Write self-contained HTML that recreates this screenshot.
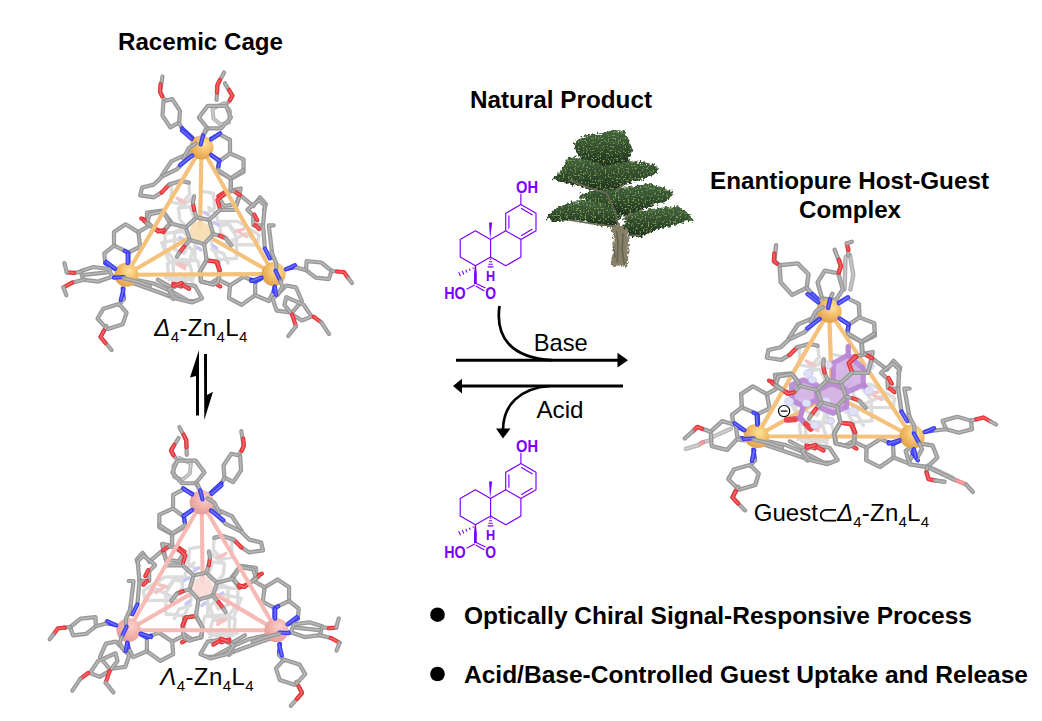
<!DOCTYPE html>
<html><head><meta charset="utf-8">
<style>
html,body{margin:0;padding:0;background:#fff;}
body{width:1042px;height:721px;overflow:hidden;position:relative;}
svg{position:absolute;left:0;top:0;}
text{font-family:"Liberation Sans",sans-serif;}
.hb{font-weight:bold;font-size:24.3px;fill:#000;}
.rg{font-size:24px;fill:#000;}
.pu{fill:#7a00ff;font-weight:bold;}
</style></head><body>
<svg width="1042" height="721" viewBox="0 0 1042 721">
<defs><radialGradient id="zn1" cx="0.62" cy="0.35" r="0.7"><stop offset="0" stop-color="#fde49c"/><stop offset="0.5" stop-color="#f4bd68"/><stop offset="1" stop-color="#df9f4a"/></radialGradient><radialGradient id="zn2" cx="0.38" cy="0.35" r="0.7"><stop offset="0" stop-color="#fbd0cc"/><stop offset="0.5" stop-color="#f3b3ae"/><stop offset="1" stop-color="#e39a95"/></radialGradient>
<g id="cageA" fill="none" stroke-linecap="round" stroke-linejoin="round">
<path d="M171.3,182.7 L188.8,181.7 L189.7,194.3 L181.0,204.1 L171.3,202.1ZM161.6,242.7 L181.0,238.9 L192.7,250.5 L188.8,264.1 L169.3,262.2ZM165.5,277.7 L181.0,273.8 L192.7,281.6M220.3,221.4 L237.7,221.4 L259.1,235.0 L257.2,244.7 L233.9,244.7 L220.3,233.0ZM174.7,231.9 L184.4,228.0 L190.2,239.7 L184.4,253.3 L174.7,249.4ZM211.6,249.4 L223.3,253.3 L228.1,263.0M179.6,207.6 L189.3,200.8 L194.1,195.0M208.7,207.6 L215.5,212.5 L219.4,226.1 L229.1,224.1 L234.9,231.9M178.3,208.3 L189.9,206.6 L194.9,219.9 L186.6,226.6 L179.9,219.9ZM165.0,233.2 L183.3,231.6 L194.9,243.2 L194.9,259.9 L176.6,263.2 L165.0,248.2ZM211.6,223.3 L226.6,221.6 L236.5,236.6 L236.5,258.2 L218.2,259.9 L211.6,244.9ZM203.2,191.6 L213.2,193.3 L214.9,208.3 L206.6,213.3M173.3,263.2 L189.9,264.9 L193.3,278.2 L173.3,278.2ZM226.6,243.2 L246.5,233.2 L256.5,241.6" stroke="#dcdcdc" stroke-width="3.4"/>
<path d="M235.8,231.1 L243.6,229.1M181.0,264.1 L184.9,266.1M177.1,198.2 L184.9,202.1M178.3,199.1 L181.6,201.6M178.3,264.0 L184.9,265.7M238.2,231.6 L246.5,236.6" stroke="#f2c4c4" stroke-width="3.4"/>
<path d="M204.1,212.4 L208.2,214.9M214.1,222.4 L218.2,224.9M179.9,237.4 L184.1,239.9M197.4,247.4 L200.8,249.9M213.2,245.7 L216.6,248.2" stroke="#c8c8f4" stroke-width="3.4"/>
<circle cx="200.0" cy="231.4" r="10" fill="var(--cen)" stroke="none"/>
<path d="M192.7,151.6 L171.3,161.3 L161.6,175.9" stroke="#989898" stroke-width="4.2"/>
<path d="M192.7,151.6 L171.3,161.3 L161.6,175.9" stroke="#c2c2c2" stroke-width="1.6" stroke-opacity="0.75"/>
<path d="M188.8,157.4 L177.1,169.1 L163.5,175.9" stroke="#989898" stroke-width="4.2"/>
<path d="M188.8,157.4 L177.1,169.1 L163.5,175.9" stroke="#c2c2c2" stroke-width="1.6" stroke-opacity="0.75"/>
<path d="M161.6,176.9 L153.8,184.6 L142.1,187.5 L140.2,195.3 L153.8,197.3 L161.6,192.4" stroke="#989898" stroke-width="4.2"/>
<path d="M161.6,176.9 L153.8,184.6 L142.1,187.5 L140.2,195.3 L153.8,197.3 L161.6,192.4" stroke="#c2c2c2" stroke-width="1.6" stroke-opacity="0.75"/>
<path d="M161.6,192.4 L169.3,184.6" stroke="#e63338" stroke-width="4.2"/>
<path d="M161.6,192.4 L169.3,184.6" stroke="#f77a7a" stroke-width="1.6" stroke-opacity="0.75"/>
<path d="M169.3,184.6 L181.0,180.7 L188.8,182.7" stroke="#989898" stroke-width="4.2"/>
<path d="M169.3,184.6 L181.0,180.7 L188.8,182.7" stroke="#c2c2c2" stroke-width="1.6" stroke-opacity="0.75"/>
<path d="M210.5,139.0 L219.3,134.1" stroke="#3a3cf2" stroke-width="4.2"/>
<path d="M210.5,139.0 L219.3,134.1" stroke="#8080ff" stroke-width="1.6" stroke-opacity="0.75"/>
<path d="M219.3,134.1 L230.0,139.9 L230.0,153.5" stroke="#989898" stroke-width="4.2"/>
<path d="M219.3,134.1 L230.0,139.9 L230.0,153.5" stroke="#c2c2c2" stroke-width="1.6" stroke-opacity="0.75"/>
<path d="M219.3,161.3 L230.0,153.5 L243.6,159.4 L243.6,172.0 L230.9,178.8 L217.3,171.0 L219.3,161.3" stroke="#989898" stroke-width="4.2"/>
<path d="M219.3,161.3 L230.0,153.5 L243.6,159.4 L243.6,172.0 L230.9,178.8 L217.3,171.0 L219.3,161.3" stroke="#c2c2c2" stroke-width="1.6" stroke-opacity="0.75"/>
<path d="M211.5,155.5 L219.3,160.3 L218.3,167.1" stroke="#3a3cf2" stroke-width="4.2"/>
<path d="M211.5,155.5 L219.3,160.3 L218.3,167.1" stroke="#8080ff" stroke-width="1.6" stroke-opacity="0.75"/>
<path d="M230.9,178.8 L230.9,190.5" stroke="#989898" stroke-width="4.2"/>
<path d="M230.9,178.8 L230.9,190.5" stroke="#c2c2c2" stroke-width="1.6" stroke-opacity="0.75"/>
<path d="M230.9,190.5 L240.7,188.5 L236.8,204.1 L224.1,206.0 L219.3,198.2 L230.9,190.5" stroke="#989898" stroke-width="4.2"/>
<path d="M230.9,190.5 L240.7,188.5 L236.8,204.1 L224.1,206.0 L219.3,198.2 L230.9,190.5" stroke="#c2c2c2" stroke-width="1.6" stroke-opacity="0.75"/>
<path d="M218.3,196.3 L224.1,192.4" stroke="#e63338" stroke-width="4.2"/>
<path d="M218.3,196.3 L224.1,192.4" stroke="#f77a7a" stroke-width="1.6" stroke-opacity="0.75"/>
<path d="M241.6,196.3 L253.3,206.0" stroke="#989898" stroke-width="4.2"/>
<path d="M241.6,196.3 L253.3,206.0" stroke="#c2c2c2" stroke-width="1.6" stroke-opacity="0.75"/>
<path d="M253.3,206.0 L260.1,197.3 L265.9,204.1 L264.0,210.1" stroke="#989898" stroke-width="4.2"/>
<path d="M253.3,206.0 L260.1,197.3 L265.9,204.1 L264.0,210.1" stroke="#c2c2c2" stroke-width="1.6" stroke-opacity="0.75"/>
<path d="M114.0,232.1 L125.6,224.3 L138.3,232.1 L140.2,246.6 L128.5,252.5 L114.0,245.7Z" stroke="#989898" stroke-width="4.2"/>
<path d="M114.0,232.1 L125.6,224.3 L138.3,232.1 L140.2,246.6 L128.5,252.5 L114.0,245.7Z" stroke="#c2c2c2" stroke-width="1.6" stroke-opacity="0.75"/>
<path d="M124.7,250.9 L128.5,252.8 L128.5,262.2" stroke="#3a3cf2" stroke-width="4.2"/>
<path d="M124.7,250.9 L128.5,252.8 L128.5,262.2" stroke="#8080ff" stroke-width="1.6" stroke-opacity="0.75"/>
<path d="M114.0,245.7 L104.3,253.4 L105.2,263.1" stroke="#989898" stroke-width="4.2"/>
<path d="M114.0,245.7 L104.3,253.4 L105.2,263.1" stroke="#c2c2c2" stroke-width="1.6" stroke-opacity="0.75"/>
<path d="M105.2,263.1 L114.9,269.0" stroke="#3a3cf2" stroke-width="4.2"/>
<path d="M105.2,263.1 L114.9,269.0" stroke="#8080ff" stroke-width="1.6" stroke-opacity="0.75"/>
<path d="M138.3,232.1 L149.9,225.3" stroke="#989898" stroke-width="4.2"/>
<path d="M138.3,232.1 L149.9,225.3" stroke="#c2c2c2" stroke-width="1.6" stroke-opacity="0.75"/>
<path d="M147.0,212.6 L162.5,210.7 L171.3,222.3 L163.5,232.1 L153.8,229.1 L147.0,221.4Z" stroke="#989898" stroke-width="4.2"/>
<path d="M147.0,212.6 L162.5,210.7 L171.3,222.3 L163.5,232.1 L153.8,229.1 L147.0,221.4Z" stroke="#c2c2c2" stroke-width="1.6" stroke-opacity="0.75"/>
<path d="M141.2,218.5 L147.0,220.4" stroke="#e63338" stroke-width="4.2"/>
<path d="M141.2,218.5 L147.0,220.4" stroke="#f77a7a" stroke-width="1.6" stroke-opacity="0.75"/>
<path d="M155.7,229.1 L163.5,232.1" stroke="#e63338" stroke-width="4.2"/>
<path d="M155.7,229.1 L163.5,232.1" stroke="#f77a7a" stroke-width="1.6" stroke-opacity="0.75"/>
<path d="M112.0,276.7 L122.7,277.7" stroke="#3a3cf2" stroke-width="4.2"/>
<path d="M112.0,276.7 L122.7,277.7" stroke="#8080ff" stroke-width="1.6" stroke-opacity="0.75"/>
<path d="M126.6,277.7 L153.8,283.5 L171.3,291.3 L188.8,301.0 L195.0,301.0" stroke="#989898" stroke-width="4.2"/>
<path d="M126.6,277.7 L153.8,283.5 L171.3,291.3 L188.8,301.0 L195.0,301.0" stroke="#c2c2c2" stroke-width="1.6" stroke-opacity="0.75"/>
<path d="M128.5,281.6 L161.6,293.3 L171.3,297.1 L173.2,299.1" stroke="#989898" stroke-width="4.2"/>
<path d="M128.5,281.6 L161.6,293.3 L171.3,297.1 L173.2,299.1" stroke="#c2c2c2" stroke-width="1.6" stroke-opacity="0.75"/>
<path d="M157.7,279.7 L171.3,287.4 L169.3,295.2" stroke="#989898" stroke-width="4.2"/>
<path d="M157.7,279.7 L171.3,287.4 L169.3,295.2" stroke="#c2c2c2" stroke-width="1.6" stroke-opacity="0.75"/>
<path d="M173.2,283.5 L181.0,286.5" stroke="#e63338" stroke-width="4.2"/>
<path d="M173.2,283.5 L181.0,286.5" stroke="#f77a7a" stroke-width="1.6" stroke-opacity="0.75"/>
<path d="M122.7,288.4 L123.7,299.1" stroke="#3a3cf2" stroke-width="4.2"/>
<path d="M122.7,288.4 L123.7,299.1" stroke="#8080ff" stroke-width="1.6" stroke-opacity="0.75"/>
<path d="M123.7,299.1 L118.8,304.9" stroke="#989898" stroke-width="4.2"/>
<path d="M123.7,299.1 L118.8,304.9" stroke="#c2c2c2" stroke-width="1.6" stroke-opacity="0.75"/>
<path d="M103.3,308.8 L118.8,303.9 L126.6,312.7 L122.7,324.3 L107.2,329.2 L97.5,318.5Z" stroke="#989898" stroke-width="4.2"/>
<path d="M103.3,308.8 L118.8,303.9 L126.6,312.7 L122.7,324.3 L107.2,329.2 L97.5,318.5Z" stroke="#c2c2c2" stroke-width="1.6" stroke-opacity="0.75"/>
<path d="M106.5,326.0 L100.5,337.0 L111.6,350.0" stroke="#989898" stroke-width="4.2"/>
<path d="M106.5,326.0 L100.5,337.0 L111.6,350.0" stroke="#c2c2c2" stroke-width="1.6" stroke-opacity="0.75"/>
<path d="M104.0,330.5 L100.5,337.0 L105.5,343.0" stroke="#e63338" stroke-width="4.2"/>
<path d="M104.0,330.5 L100.5,337.0 L105.5,343.0" stroke="#f77a7a" stroke-width="1.6" stroke-opacity="0.75"/>
<path d="M247.5,209.7 L259.1,200.0 L264.9,205.8 L263.0,225.3 L253.3,225.3 L253.3,215.5Z" stroke="#989898" stroke-width="4.2"/>
<path d="M247.5,209.7 L259.1,200.0 L264.9,205.8 L263.0,225.3 L253.3,225.3 L253.3,215.5Z" stroke="#c2c2c2" stroke-width="1.6" stroke-opacity="0.75"/>
<path d="M254.3,214.6 L257.2,220.4" stroke="#e63338" stroke-width="4.2"/>
<path d="M254.3,214.6 L257.2,220.4" stroke="#f77a7a" stroke-width="1.6" stroke-opacity="0.75"/>
<path d="M255.2,225.3 L259.1,229.1" stroke="#e63338" stroke-width="4.2"/>
<path d="M255.2,225.3 L259.1,229.1" stroke="#f77a7a" stroke-width="1.6" stroke-opacity="0.75"/>
<path d="M264.9,248.6 L263.0,225.3" stroke="#989898" stroke-width="4.2"/>
<path d="M264.9,248.6 L263.0,225.3" stroke="#c2c2c2" stroke-width="1.6" stroke-opacity="0.75"/>
<path d="M272.7,258.3 L268.8,225.3 L273.7,225.3" stroke="#989898" stroke-width="4.2"/>
<path d="M272.7,258.3 L268.8,225.3 L273.7,225.3" stroke="#c2c2c2" stroke-width="1.6" stroke-opacity="0.75"/>
<path d="M264.9,248.6 L269.8,258.3" stroke="#3a3cf2" stroke-width="4.2"/>
<path d="M264.9,248.6 L269.8,258.3" stroke="#8080ff" stroke-width="1.6" stroke-opacity="0.75"/>
<path d="M199.9,271.9 L206.7,260.2 L218.3,262.2 L219.3,277.7 L210.5,283.5 L200.8,281.6Z" stroke="#989898" stroke-width="4.2"/>
<path d="M199.9,271.9 L206.7,260.2 L218.3,262.2 L219.3,277.7 L210.5,283.5 L200.8,281.6Z" stroke="#c2c2c2" stroke-width="1.6" stroke-opacity="0.75"/>
<path d="M216.4,262.2 L218.7,268.0" stroke="#e63338" stroke-width="4.2"/>
<path d="M216.4,262.2 L218.7,268.0" stroke="#f77a7a" stroke-width="1.6" stroke-opacity="0.75"/>
<path d="M215.4,283.5 L220.3,286.5" stroke="#e63338" stroke-width="4.2"/>
<path d="M215.4,283.5 L220.3,286.5" stroke="#f77a7a" stroke-width="1.6" stroke-opacity="0.75"/>
<path d="M230.0,285.5 L218.3,279.7" stroke="#989898" stroke-width="4.2"/>
<path d="M230.0,285.5 L218.3,279.7" stroke="#c2c2c2" stroke-width="1.6" stroke-opacity="0.75"/>
<path d="M230.0,285.5 L243.6,276.7 L255.2,281.6 L255.2,295.2 L241.6,304.9 L229.0,298.1Z" stroke="#989898" stroke-width="4.2"/>
<path d="M230.0,285.5 L243.6,276.7 L255.2,281.6 L255.2,295.2 L241.6,304.9 L229.0,298.1Z" stroke="#c2c2c2" stroke-width="1.6" stroke-opacity="0.75"/>
<path d="M251.3,279.7 L255.2,281.6 L263.0,277.7" stroke="#3a3cf2" stroke-width="4.2"/>
<path d="M251.3,279.7 L255.2,281.6 L263.0,277.7" stroke="#8080ff" stroke-width="1.6" stroke-opacity="0.75"/>
<path d="M255.2,295.2 L268.8,301.0 L273.7,291.3" stroke="#989898" stroke-width="4.2"/>
<path d="M255.2,295.2 L268.8,301.0 L273.7,291.3" stroke="#c2c2c2" stroke-width="1.6" stroke-opacity="0.75"/>
<path d="M273.7,291.3 L274.7,285.5" stroke="#3a3cf2" stroke-width="4.2"/>
<path d="M273.7,291.3 L274.7,285.5" stroke="#8080ff" stroke-width="1.6" stroke-opacity="0.75"/>
<path d="M286.3,269.0 L296.0,267.0" stroke="#3a3cf2" stroke-width="4.2"/>
<path d="M286.3,269.0 L296.0,267.0" stroke="#8080ff" stroke-width="1.6" stroke-opacity="0.75"/>
<path d="M167.5,263.6 L177.6,259.3 L197.7,260.8 L200.6,272.3 L184.8,280.9 L168.9,279.5Z" stroke="#dcdcdc" stroke-width="3.4"/>
<path d="M177.6,264.4 L184.8,268.7" stroke="#f2c4c4" stroke-width="3.4"/>
<path d="M168.9,289.5 L180.5,283.8 L194.9,285.9 L202.0,298.2 L192.0,302.5 L174.7,298.2Z" stroke="#989898" stroke-width="4.2"/>
<path d="M168.9,289.5 L180.5,283.8 L194.9,285.9 L202.0,298.2 L192.0,302.5 L174.7,298.2Z" stroke="#c2c2c2" stroke-width="1.6" stroke-opacity="0.75"/>
<path d="M173.3,285.9 L181.9,283.1" stroke="#e63338" stroke-width="4.2"/>
<path d="M173.3,285.9 L181.9,283.1" stroke="#f77a7a" stroke-width="1.6" stroke-opacity="0.75"/>
<path d="M183.3,285.5 L189.1,288.8" stroke="#e63338" stroke-width="4.2"/>
<path d="M183.3,285.5 L189.1,288.8" stroke="#f77a7a" stroke-width="1.6" stroke-opacity="0.75"/>
<g id="c2r" fill="none" stroke-linecap="round" stroke-linejoin="round">
<path d="M219.9,209.9 L234.9,209.9 L239.9,195.0" stroke="#989898" stroke-width="4.2"/>
<path d="M219.9,209.9 L234.9,209.9 L239.9,195.0" stroke="#c2c2c2" stroke-width="1.6" stroke-opacity="0.75"/>
<path d="M239.9,195.0 L233.2,190.8" stroke="#e63338" stroke-width="4.2"/>
<path d="M239.9,195.0 L233.2,190.8" stroke="#f77a7a" stroke-width="1.6" stroke-opacity="0.75"/>
<path d="M233.2,190.8 L224.9,193.3" stroke="#989898" stroke-width="4.2"/>
<path d="M233.2,190.8 L224.9,193.3" stroke="#c2c2c2" stroke-width="1.6" stroke-opacity="0.75"/>
<path d="M224.9,193.3 L217.4,200.0 L219.9,208.3" stroke="#e63338" stroke-width="4.2"/>
<path d="M224.9,193.3 L217.4,200.0 L219.9,208.3" stroke="#f77a7a" stroke-width="1.6" stroke-opacity="0.75"/>
<path d="M230.7,190.0 L230.7,178.3 L243.2,170.0" stroke="#989898" stroke-width="4.2"/>
<path d="M230.7,190.0 L230.7,178.3 L243.2,170.0" stroke="#c2c2c2" stroke-width="1.6" stroke-opacity="0.75"/>
<path d="M230.7,178.3 L218.2,170.0" stroke="#989898" stroke-width="4.2"/>
<path d="M230.7,178.3 L218.2,170.0" stroke="#c2c2c2" stroke-width="1.6" stroke-opacity="0.75"/>
<path d="M206.6,259.9 L199.9,271.5 L201.6,281.5 L213.2,284.8 L218.2,281.5 L219.9,269.9" stroke="#989898" stroke-width="4.2"/>
<path d="M206.6,259.9 L199.9,271.5 L201.6,281.5 L213.2,284.8 L218.2,281.5 L219.9,269.9" stroke="#c2c2c2" stroke-width="1.6" stroke-opacity="0.75"/>
<path d="M219.9,269.9 L216.6,261.5 L208.2,260.7" stroke="#e63338" stroke-width="4.2"/>
<path d="M219.9,269.9 L216.6,261.5 L208.2,260.7" stroke="#f77a7a" stroke-width="1.6" stroke-opacity="0.75"/>
<path d="M170.0,223.3 L163.3,211.6 L150.0,214.1 L146.7,223.3" stroke="#989898" stroke-width="4.2"/>
<path d="M170.0,223.3 L163.3,211.6 L150.0,214.1 L146.7,223.3" stroke="#c2c2c2" stroke-width="1.6" stroke-opacity="0.75"/>
<path d="M146.7,223.3 L143.3,219.9" stroke="#e63338" stroke-width="4.2"/>
<path d="M146.7,223.3 L143.3,219.9" stroke="#f77a7a" stroke-width="1.6" stroke-opacity="0.75"/>
<path d="M170.0,223.3 L164.1,229.9" stroke="#989898" stroke-width="4.2"/>
<path d="M170.0,223.3 L164.1,229.9" stroke="#c2c2c2" stroke-width="1.6" stroke-opacity="0.75"/>
<path d="M164.1,229.9 L158.3,231.6 L153.3,227.4" stroke="#e63338" stroke-width="4.2"/>
<path d="M164.1,229.9 L158.3,231.6 L153.3,227.4" stroke="#f77a7a" stroke-width="1.6" stroke-opacity="0.75"/>
<path d="M153.3,227.4 L146.7,223.3" stroke="#989898" stroke-width="4.2"/>
<path d="M153.3,227.4 L146.7,223.3" stroke="#c2c2c2" stroke-width="1.6" stroke-opacity="0.75"/>
</g>

<path d="M201.5,147.4L126.3,274.8M201.5,147.4L273.6,274.0M126.3,274.8L273.6,274.0M201.5,147.4L200.1,226.4M126.3,274.8L186.2,239.5M273.6,274.0L213.8,239.4" stroke="var(--edge)" stroke-width="4.1"/>
<circle cx="200.0" cy="231.4" r="10.5" fill="var(--cen)" fill-opacity="0.75" stroke="none"/>
</g><g id="cageB" fill="none" stroke-linecap="round" stroke-linejoin="round">
<path d="M185.8,227.4 L196.6,217.4 L209.1,219.9 L213.2,234.1 L204.1,244.1 L189.9,239.9Z" stroke="#989898" stroke-width="4.2"/>
<path d="M185.8,227.4 L196.6,217.4 L209.1,219.9 L213.2,234.1 L204.1,244.1 L189.9,239.9Z" stroke="#c2c2c2" stroke-width="1.6" stroke-opacity="0.75"/>
<path d="M196.6,217.4 L194.1,209.9" stroke="#989898" stroke-width="4.2"/>
<path d="M196.6,217.4 L194.1,209.9" stroke="#c2c2c2" stroke-width="1.6" stroke-opacity="0.75"/>
<path d="M194.1,209.9 L192.9,202.5" stroke="#e63338" stroke-width="4.2"/>
<path d="M194.1,209.9 L192.9,202.5" stroke="#f77a7a" stroke-width="1.6" stroke-opacity="0.75"/>
<path d="M192.9,202.5 L194.1,196.6" stroke="#989898" stroke-width="4.2"/>
<path d="M192.9,202.5 L194.1,196.6" stroke="#c2c2c2" stroke-width="1.6" stroke-opacity="0.75"/>
<path d="M209.1,219.9 L219.9,209.9" stroke="#989898" stroke-width="4.2"/>
<path d="M209.1,219.9 L219.9,209.9" stroke="#c2c2c2" stroke-width="1.6" stroke-opacity="0.75"/>
<path d="M213.2,234.1 L219.9,235.7" stroke="#989898" stroke-width="4.2"/>
<path d="M213.2,234.1 L219.9,235.7" stroke="#c2c2c2" stroke-width="1.6" stroke-opacity="0.75"/>
<path d="M219.9,235.7 L225.7,238.2" stroke="#e63338" stroke-width="4.2"/>
<path d="M219.9,235.7 L225.7,238.2" stroke="#f77a7a" stroke-width="1.6" stroke-opacity="0.75"/>
<path d="M225.7,238.2 L231.2,245.2" stroke="#989898" stroke-width="4.2"/>
<path d="M225.7,238.2 L231.2,245.2" stroke="#c2c2c2" stroke-width="1.6" stroke-opacity="0.75"/>
<path d="M204.1,244.1 L206.6,259.9" stroke="#989898" stroke-width="4.2"/>
<path d="M204.1,244.1 L206.6,259.9" stroke="#c2c2c2" stroke-width="1.6" stroke-opacity="0.75"/>
<path d="M189.9,239.9 L184.1,246.6" stroke="#989898" stroke-width="4.2"/>
<path d="M189.9,239.9 L184.1,246.6" stroke="#c2c2c2" stroke-width="1.6" stroke-opacity="0.75"/>
<path d="M184.1,246.6 L179.1,253.2" stroke="#e63338" stroke-width="4.2"/>
<path d="M184.1,246.6 L179.1,253.2" stroke="#f77a7a" stroke-width="1.6" stroke-opacity="0.75"/>
<path d="M179.1,253.2 L177.0,256.6" stroke="#989898" stroke-width="4.2"/>
<path d="M179.1,253.2 L177.0,256.6" stroke="#c2c2c2" stroke-width="1.6" stroke-opacity="0.75"/>
<path d="M185.8,227.4 L170.0,223.3" stroke="#989898" stroke-width="4.2"/>
<path d="M185.8,227.4 L170.0,223.3" stroke="#c2c2c2" stroke-width="1.6" stroke-opacity="0.75"/>
<circle cx="201.5" cy="147.4" r="12" style="fill:var(--zng)" stroke="none"/>
<circle cx="126.3" cy="274.8" r="12" style="fill:var(--zng)" stroke="none"/>
<circle cx="273.6" cy="274.0" r="12" style="fill:var(--zng)" stroke="none"/>
<path d="M181.9,130.5 L191.6,138.9" stroke="#3a3cf2" stroke-width="4.2"/>
<path d="M181.9,130.5 L191.6,138.9" stroke="#8080ff" stroke-width="1.6" stroke-opacity="0.75"/>
<path d="M205.5,129.9 L203.1,135.4" stroke="#989898" stroke-width="4.2"/>
<path d="M205.5,129.9 L203.1,135.4" stroke="#c2c2c2" stroke-width="1.6" stroke-opacity="0.75"/>
<path d="M203.1,135.4 L200.7,144.4" stroke="#3a3cf2" stroke-width="4.2"/>
<path d="M203.1,135.4 L200.7,144.4" stroke="#8080ff" stroke-width="1.6" stroke-opacity="0.75"/>
<path d="M183.3,158.3 L188.9,147.9 L195.8,143.4" stroke="#989898" stroke-width="4.2"/>
<path d="M183.3,158.3 L188.9,147.9 L195.8,143.4" stroke="#c2c2c2" stroke-width="1.6" stroke-opacity="0.75"/>
<path d="M179.9,165.2 L192.3,155.5" stroke="#3a3cf2" stroke-width="4.2"/>
<path d="M179.9,165.2 L192.3,155.5" stroke="#8080ff" stroke-width="1.6" stroke-opacity="0.75"/>
<path d="M211.1,139.6 L220.1,133.3" stroke="#3a3cf2" stroke-width="4.2"/>
<path d="M211.1,139.6 L220.1,133.3" stroke="#8080ff" stroke-width="1.6" stroke-opacity="0.75"/>
<path d="M211.1,154.8 L219.4,161.1" stroke="#3a3cf2" stroke-width="4.2"/>
<path d="M211.1,154.8 L219.4,161.1" stroke="#8080ff" stroke-width="1.6" stroke-opacity="0.75"/>
<path d="M106.2,261.8 L115.3,268.7" stroke="#3a3cf2" stroke-width="4.2"/>
<path d="M106.2,261.8 L115.3,268.7" stroke="#8080ff" stroke-width="1.6" stroke-opacity="0.75"/>
<path d="M127.7,253.5 L127.7,263.2" stroke="#3a3cf2" stroke-width="4.2"/>
<path d="M127.7,253.5 L127.7,263.2" stroke="#8080ff" stroke-width="1.6" stroke-opacity="0.75"/>
<path d="M113.9,277.7 L123.6,277.0" stroke="#3a3cf2" stroke-width="4.2"/>
<path d="M113.9,277.7 L123.6,277.0" stroke="#8080ff" stroke-width="1.6" stroke-opacity="0.75"/>
<path d="M123.6,278.4 L136.1,281.2 L149.9,286.1" stroke="#989898" stroke-width="4.2"/>
<path d="M123.6,278.4 L136.1,281.2 L149.9,286.1" stroke="#c2c2c2" stroke-width="1.6" stroke-opacity="0.75"/>
<path d="M123.6,288.8 L120.8,299.9" stroke="#3a3cf2" stroke-width="4.2"/>
<path d="M123.6,288.8 L120.8,299.9" stroke="#8080ff" stroke-width="1.6" stroke-opacity="0.75"/>
<path d="M271.4,251.9 L276.2,263.0 L276.2,270.0" stroke="#989898" stroke-width="4.2"/>
<path d="M271.4,251.9 L276.2,263.0 L276.2,270.0" stroke="#c2c2c2" stroke-width="1.6" stroke-opacity="0.75"/>
<path d="M275.5,270.7 L280.4,281.1" stroke="#3a3cf2" stroke-width="4.2"/>
<path d="M275.5,270.7 L280.4,281.1" stroke="#8080ff" stroke-width="1.6" stroke-opacity="0.75"/>
<path d="M280.4,281.1 L282.4,286.6 L277.6,294.9" stroke="#989898" stroke-width="4.2"/>
<path d="M280.4,281.1 L282.4,286.6 L277.6,294.9" stroke="#c2c2c2" stroke-width="1.6" stroke-opacity="0.75"/>
<path d="M285.9,269.3 L294.9,265.1" stroke="#3a3cf2" stroke-width="4.2"/>
<path d="M285.9,269.3 L294.9,265.1" stroke="#8080ff" stroke-width="1.6" stroke-opacity="0.75"/>
<path d="M251.2,281.1 L261.6,277.6" stroke="#3a3cf2" stroke-width="4.2"/>
<path d="M251.2,281.1 L261.6,277.6" stroke="#8080ff" stroke-width="1.6" stroke-opacity="0.75"/>
<path d="M274.8,286.6 L276.2,294.9" stroke="#3a3cf2" stroke-width="4.2"/>
<path d="M274.8,286.6 L276.2,294.9" stroke="#8080ff" stroke-width="1.6" stroke-opacity="0.75"/>
</g><g id="cageTop" fill="none" stroke-linecap="round" stroke-linejoin="round">
<path d="M163.5,101.1 L172.3,99.1 L180.0,110.8 L179.1,122.5 L170.3,127.3 L162.5,115.7Z" stroke="#989898" stroke-width="4.2"/>
<path d="M163.5,101.1 L172.3,99.1 L180.0,110.8 L179.1,122.5 L170.3,127.3 L162.5,115.7Z" stroke="#c2c2c2" stroke-width="1.6" stroke-opacity="0.75"/>
<path d="M164.1,99.1 L160.0,91.6 L162.5,76.6" stroke="#989898" stroke-width="4.2"/>
<path d="M164.1,99.1 L160.0,91.6 L162.5,76.6" stroke="#c2c2c2" stroke-width="1.6" stroke-opacity="0.75"/>
<path d="M162.0,96.3 L160.0,91.6 L160.5,84.1" stroke="#e63338" stroke-width="4.2"/>
<path d="M162.0,96.3 L160.0,91.6 L160.5,84.1" stroke="#f77a7a" stroke-width="1.6" stroke-opacity="0.75"/>
<path d="M179.1,123.4 L183.9,131.2" stroke="#989898" stroke-width="4.2"/>
<path d="M179.1,123.4 L183.9,131.2" stroke="#c2c2c2" stroke-width="1.6" stroke-opacity="0.75"/>
<path d="M182.0,128.3 L193.6,139.0" stroke="#3a3cf2" stroke-width="4.2"/>
<path d="M182.0,128.3 L193.6,139.0" stroke="#8080ff" stroke-width="1.6" stroke-opacity="0.75"/>
<path d="M212.5,108.9 L224.1,103.0 L230.0,110.8 L229.0,122.5 L220.3,124.4 L213.5,118.6Z" stroke="#b2b2b2" stroke-width="3.9"/>
<path d="M212.5,108.9 L224.1,103.0 L230.0,110.8 L229.0,122.5 L220.3,124.4 L213.5,118.6Z" stroke="#d4d4d4" stroke-width="1.6" stroke-opacity="0.75"/>
<path d="M216.6,100.0 L217.4,85.0 L224.1,72.5" stroke="#989898" stroke-width="4.2"/>
<path d="M216.6,100.0 L217.4,85.0 L224.1,72.5" stroke="#c2c2c2" stroke-width="1.6" stroke-opacity="0.75"/>
<path d="M216.9,92.5 L217.4,85.0 L219.9,80.0" stroke="#e63338" stroke-width="4.2"/>
<path d="M216.9,92.5 L217.4,85.0 L219.9,80.0" stroke="#f77a7a" stroke-width="1.6" stroke-opacity="0.75"/>
<path d="M198.9,117.6 L207.6,105.9 L226.1,105.9 L230.9,117.6 L221.2,128.3 L207.6,128.3Z" stroke="#989898" stroke-width="4.2"/>
<path d="M198.9,117.6 L207.6,105.9 L226.1,105.9 L230.9,117.6 L221.2,128.3 L207.6,128.3Z" stroke="#c2c2c2" stroke-width="1.6" stroke-opacity="0.75"/>
<path d="M207.6,128.3 L202.8,136.1" stroke="#989898" stroke-width="4.2"/>
<path d="M207.6,128.3 L202.8,136.1" stroke="#c2c2c2" stroke-width="1.6" stroke-opacity="0.75"/>
<path d="M202.8,136.1 L198.9,143.8" stroke="#3a3cf2" stroke-width="4.2"/>
<path d="M202.8,136.1 L198.9,143.8" stroke="#8080ff" stroke-width="1.6" stroke-opacity="0.75"/>
<path d="M228.2,102.5 L232.4,95.8 L224.9,83.3" stroke="#989898" stroke-width="4.2"/>
<path d="M228.2,102.5 L232.4,95.8 L224.9,83.3" stroke="#c2c2c2" stroke-width="1.6" stroke-opacity="0.75"/>
<path d="M229.9,100.3 L232.4,95.8 L229.1,90.0" stroke="#e63338" stroke-width="4.2"/>
<path d="M229.9,100.3 L232.4,95.8 L229.1,90.0" stroke="#f77a7a" stroke-width="1.6" stroke-opacity="0.75"/>
</g><g id="cageRF" fill="none" stroke-linecap="round" stroke-linejoin="round">
<path d="M306.0,270.1 L306.6,261.1 L321.2,262.5 L331.6,270.8 L328.8,279.1 L315.7,277.7Z" stroke="#989898" stroke-width="4.2"/>
<path d="M306.0,270.1 L306.6,261.1 L321.2,262.5 L331.6,270.8 L328.8,279.1 L315.7,277.7Z" stroke="#c2c2c2" stroke-width="1.6" stroke-opacity="0.75"/>
<path d="M331.6,270.8 L337.0,271.5" stroke="#989898" stroke-width="4.2"/>
<path d="M331.6,270.8 L337.0,271.5" stroke="#c2c2c2" stroke-width="1.6" stroke-opacity="0.75"/>
<path d="M337.0,271.5 L344.0,272.2 L348.5,278.5" stroke="#e63338" stroke-width="4.2"/>
<path d="M337.0,271.5 L344.0,272.2 L348.5,278.5" stroke="#f77a7a" stroke-width="1.6" stroke-opacity="0.75"/>
<path d="M348.5,278.5 L352.0,283.0" stroke="#989898" stroke-width="4.2"/>
<path d="M348.5,278.5 L352.0,283.0" stroke="#c2c2c2" stroke-width="1.6" stroke-opacity="0.75"/>
<path d="M296.0,267.5 L306.0,270.1" stroke="#989898" stroke-width="4.2"/>
<path d="M296.0,267.5 L306.0,270.1" stroke="#c2c2c2" stroke-width="1.6" stroke-opacity="0.75"/>
</g><g id="cageLD" fill="none" stroke-linecap="round" stroke-linejoin="round">
<path d="M80.9,270.9 L93.6,267.0 L109.1,269.0 L112.0,276.7 L98.4,281.6 L82.9,279.7Z" stroke="#989898" stroke-width="4.2"/>
<path d="M80.9,270.9 L93.6,267.0 L109.1,269.0 L112.0,276.7 L98.4,281.6 L82.9,279.7Z" stroke="#c2c2c2" stroke-width="1.6" stroke-opacity="0.75"/>
<path d="M83.9,274.8 L107.2,272.3" stroke="#989898" stroke-width="4.2"/>
<path d="M83.9,274.8 L107.2,272.3" stroke="#c2c2c2" stroke-width="1.6" stroke-opacity="0.75"/>
<path d="M80.9,271.9 L74.1,272.9" stroke="#989898" stroke-width="4.2"/>
<path d="M80.9,271.9 L74.1,272.9" stroke="#c2c2c2" stroke-width="1.6" stroke-opacity="0.75"/>
<path d="M74.1,272.9 L66.8,272.3" stroke="#e63338" stroke-width="4.2"/>
<path d="M74.1,272.9 L66.8,272.3" stroke="#f77a7a" stroke-width="1.6" stroke-opacity="0.75"/>
<path d="M66.8,272.3 L64.4,263.1" stroke="#989898" stroke-width="4.2"/>
<path d="M66.8,272.3 L64.4,263.1" stroke="#c2c2c2" stroke-width="1.6" stroke-opacity="0.75"/>
<path d="M83.9,279.7 L72.2,282.6" stroke="#989898" stroke-width="4.2"/>
<path d="M83.9,279.7 L72.2,282.6" stroke="#c2c2c2" stroke-width="1.6" stroke-opacity="0.75"/>
<path d="M72.2,282.6 L63.5,287.4" stroke="#e63338" stroke-width="4.2"/>
<path d="M72.2,282.6 L63.5,287.4" stroke="#f77a7a" stroke-width="1.6" stroke-opacity="0.75"/>
<path d="M63.5,287.4 L66.4,295.2" stroke="#989898" stroke-width="4.2"/>
<path d="M63.5,287.4 L66.4,295.2" stroke="#c2c2c2" stroke-width="1.6" stroke-opacity="0.75"/>
</g><g id="cageIJ" fill="none" stroke-linecap="round" stroke-linejoin="round">
<path d="M272.7,299.1 L286.3,285.5 L296.0,287.4 L301.9,301.0 L292.1,312.7 L276.6,310.7Z" stroke="#989898" stroke-width="4.2"/>
<path d="M272.7,299.1 L286.3,285.5 L296.0,287.4 L301.9,301.0 L292.1,312.7 L276.6,310.7Z" stroke="#c2c2c2" stroke-width="1.6" stroke-opacity="0.75"/>
<path d="M286.3,297.1 L303.8,304.9 L311.6,316.6 L301.9,320.5 L292.1,314.6 L284.4,304.9Z" stroke="#989898" stroke-width="4.2"/>
<path d="M286.3,297.1 L303.8,304.9 L311.6,316.6 L301.9,320.5 L292.1,314.6 L284.4,304.9Z" stroke="#c2c2c2" stroke-width="1.6" stroke-opacity="0.75"/>
<path d="M292.1,314.6 L296.0,326.3" stroke="#e63338" stroke-width="4.2"/>
<path d="M292.1,314.6 L296.0,326.3" stroke="#f77a7a" stroke-width="1.6" stroke-opacity="0.75"/>
<path d="M296.0,326.3 L288.3,336.0" stroke="#989898" stroke-width="4.2"/>
<path d="M296.0,326.3 L288.3,336.0" stroke="#c2c2c2" stroke-width="1.6" stroke-opacity="0.75"/>
<path d="M313.5,316.6 L321.3,322.4" stroke="#e63338" stroke-width="4.2"/>
<path d="M313.5,316.6 L321.3,322.4" stroke="#f77a7a" stroke-width="1.6" stroke-opacity="0.75"/>
<path d="M321.3,322.4 L329.1,334.1" stroke="#989898" stroke-width="4.2"/>
<path d="M321.3,322.4 L329.1,334.1" stroke="#c2c2c2" stroke-width="1.6" stroke-opacity="0.75"/>
</g></defs>
<g style="--zng:url(#zn1);--edge:#f4c27c;--cen:#f7e0b8"><use href="#cageA"/><use href="#cageTop"/><use href="#cageRF"/><use href="#cageLD"/><use href="#cageIJ"/><use href="#cageB"/></g>
<g style="--zng:url(#zn1);--edge:#f4c27c;--cen:#f7e0b8"><use href="#cageA" transform="matrix(1.05664,0.00876,0.05305,0.98790,608.37,163.62)"/><use href="#cageRF" transform="matrix(1.05664,0.00876,0.05305,0.98790,608.37,163.62) rotate(-22 296 267.5)"/><g fill="none" stroke-linecap="round" stroke-linejoin="round">
<path d="M927.2,465.7 L952.7,477.8" stroke="#b8b8b8" stroke-width="4.4"/>
<path d="M927.2,465.7 L952.7,477.8" stroke="#d8d8d8" stroke-width="1.7" stroke-opacity="0.75"/>
<path d="M905.7,450.9 L916.4,442.8 L932.6,445.5 L937.3,457.6 L927.2,467.0 L909.7,464.3Z" stroke="#989898" stroke-width="4.4"/>
<path d="M905.7,450.9 L916.4,442.8 L932.6,445.5 L937.3,457.6 L927.2,467.0 L909.7,464.3Z" stroke="#c2c2c2" stroke-width="1.7" stroke-opacity="0.75"/>
<path d="M927.2,467.0 L952.7,479.1 L956.7,480.5" stroke="#989898" stroke-width="4.4"/>
<path d="M927.2,467.0 L952.7,479.1 L956.7,480.5" stroke="#c2c2c2" stroke-width="1.7" stroke-opacity="0.75"/>
<path d="M956.7,480.5 L966.1,484.5" stroke="#f08a8a" stroke-width="4.4"/>
<path d="M956.7,480.5 L966.1,484.5" stroke="#f8b0b0" stroke-width="1.7" stroke-opacity="0.75"/>
<path d="M966.1,484.5 L972.9,491.9" stroke="#989898" stroke-width="4.4"/>
<path d="M966.1,484.5 L972.9,491.9" stroke="#c2c2c2" stroke-width="1.7" stroke-opacity="0.75"/>
<path d="M927.2,467.0 L926.5,472.4" stroke="#989898" stroke-width="4.4"/>
<path d="M927.2,467.0 L926.5,472.4" stroke="#c2c2c2" stroke-width="1.7" stroke-opacity="0.75"/>
<path d="M926.5,472.4 L928.5,479.1 L935.2,480.5" stroke="#e63338" stroke-width="4.4"/>
<path d="M926.5,472.4 L928.5,479.1 L935.2,480.5" stroke="#f77a7a" stroke-width="1.7" stroke-opacity="0.75"/>
<path d="M935.2,480.5 L944.6,481.8" stroke="#989898" stroke-width="4.4"/>
<path d="M935.2,480.5 L944.6,481.8" stroke="#c2c2c2" stroke-width="1.7" stroke-opacity="0.75"/>
<path d="M912.4,452.2 L917.8,460.3" stroke="#3a3cf2" stroke-width="4.4"/>
<path d="M912.4,452.2 L917.8,460.3" stroke="#8080ff" stroke-width="1.7" stroke-opacity="0.75"/>
</g><g fill="none" stroke-linecap="round" stroke-linejoin="round">
<path d="M713.6,436.5 L730.9,428.8" stroke="#b8b8b8" stroke-width="4.4"/>
<path d="M713.6,436.5 L730.9,428.8" stroke="#d8d8d8" stroke-width="1.7" stroke-opacity="0.75"/>
<path d="M709.8,440.3 L703.0,442.2" stroke="#b8b8b8" stroke-width="4.4"/>
<path d="M709.8,440.3 L703.0,442.2" stroke="#d8d8d8" stroke-width="1.7" stroke-opacity="0.75"/>
<path d="M703.0,442.2 L698.2,445.1" stroke="#f08a8a" stroke-width="4.4"/>
<path d="M703.0,442.2 L698.2,445.1" stroke="#f8b0b0" stroke-width="1.7" stroke-opacity="0.75"/>
<path d="M698.2,445.1 L685.8,448.9" stroke="#b8b8b8" stroke-width="4.4"/>
<path d="M698.2,445.1 L685.8,448.9" stroke="#d8d8d8" stroke-width="1.7" stroke-opacity="0.75"/>
<path d="M710.7,431.7 L722.2,421.1 L735.7,425.0 L737.6,438.4 L727.0,449.9 L711.7,446.1Z" stroke="#989898" stroke-width="4.4"/>
<path d="M710.7,431.7 L722.2,421.1 L735.7,425.0 L737.6,438.4 L727.0,449.9 L711.7,446.1Z" stroke="#c2c2c2" stroke-width="1.7" stroke-opacity="0.75"/>
<path d="M710.7,431.7 L702.1,428.8" stroke="#989898" stroke-width="4.4"/>
<path d="M710.7,431.7 L702.1,428.8" stroke="#c2c2c2" stroke-width="1.7" stroke-opacity="0.75"/>
<path d="M702.1,428.8 L697.3,426.9 L692.5,431.7" stroke="#e63338" stroke-width="4.4"/>
<path d="M702.1,428.8 L697.3,426.9 L692.5,431.7" stroke="#f77a7a" stroke-width="1.7" stroke-opacity="0.75"/>
<path d="M692.5,431.7 L684.8,438.4" stroke="#989898" stroke-width="4.4"/>
<path d="M692.5,431.7 L684.8,438.4" stroke="#c2c2c2" stroke-width="1.7" stroke-opacity="0.75"/>
<path d="M737.6,439.3 L744.3,440.3" stroke="#989898" stroke-width="4.4"/>
<path d="M737.6,439.3 L744.3,440.3" stroke="#c2c2c2" stroke-width="1.7" stroke-opacity="0.75"/>
</g><g fill="none" stroke-linecap="round" stroke-linejoin="round">
<path d="M779.7,265.2 L797.7,263.4 L808.5,274.2 L806.7,287.7 L792.3,294.9 L780.6,282.3Z" stroke="#989898" stroke-width="4.4"/>
<path d="M779.7,265.2 L797.7,263.4 L808.5,274.2 L806.7,287.7 L792.3,294.9 L780.6,282.3Z" stroke="#c2c2c2" stroke-width="1.7" stroke-opacity="0.75"/>
<path d="M779.7,265.2 L774.3,261.6 L776.1,245.3" stroke="#989898" stroke-width="4.4"/>
<path d="M779.7,265.2 L774.3,261.6 L776.1,245.3" stroke="#c2c2c2" stroke-width="1.7" stroke-opacity="0.75"/>
<path d="M777.0,263.4 L773.9,261.0 L774.3,253.4" stroke="#e8333a" stroke-width="4.4"/>
<path d="M777.0,263.4 L773.9,261.0 L774.3,253.4" stroke="#f57070" stroke-width="1.7" stroke-opacity="0.75"/>
<path d="M806.7,287.7 L812.2,294.0" stroke="#989898" stroke-width="4.4"/>
<path d="M806.7,287.7 L812.2,294.0" stroke="#c2c2c2" stroke-width="1.7" stroke-opacity="0.75"/>
<path d="M812.2,294.0 L821.2,302.2" stroke="#3b3ff0" stroke-width="4.4"/>
<path d="M812.2,294.0 L821.2,302.2" stroke="#7678ff" stroke-width="1.7" stroke-opacity="0.75"/>
<path d="M844.6,289.5 L845.5,257.1 L850.0,255.3 L853.3,275.1 L850.4,289.5" stroke="#b0b0b0" stroke-width="4.4"/>
<path d="M844.6,289.5 L845.5,257.1 L850.0,255.3 L853.3,275.1 L850.4,289.5" stroke="#cfcfcf" stroke-width="1.7" stroke-opacity="0.75"/>
<path d="M848.2,255.3 L848.2,248.0" stroke="#989898" stroke-width="4.4"/>
<path d="M848.2,255.3 L848.2,248.0" stroke="#c2c2c2" stroke-width="1.7" stroke-opacity="0.75"/>
<path d="M848.2,249.8 L846.8,243.5" stroke="#e8333a" stroke-width="4.4"/>
<path d="M848.2,249.8 L846.8,243.5" stroke="#f57070" stroke-width="1.7" stroke-opacity="0.75"/>
<path d="M846.8,243.5 L851.8,241.7" stroke="#989898" stroke-width="4.4"/>
<path d="M846.8,243.5 L851.8,241.7" stroke="#c2c2c2" stroke-width="1.7" stroke-opacity="0.75"/>
<path d="M817.6,282.3 L824.8,270.6 L838.3,273.3 L842.8,289.5 L835.6,300.3 L822.1,298.5Z" stroke="#989898" stroke-width="4.4"/>
<path d="M817.6,282.3 L824.8,270.6 L838.3,273.3 L842.8,289.5 L835.6,300.3 L822.1,298.5Z" stroke="#c2c2c2" stroke-width="1.7" stroke-opacity="0.75"/>
<path d="M822.1,298.5 L819.4,304.0" stroke="#989898" stroke-width="4.4"/>
<path d="M822.1,298.5 L819.4,304.0" stroke="#c2c2c2" stroke-width="1.7" stroke-opacity="0.75"/>
<path d="M838.3,273.3 L841.0,266.1 L834.7,249.8" stroke="#989898" stroke-width="4.4"/>
<path d="M838.3,273.3 L841.0,266.1 L834.7,249.8" stroke="#c2c2c2" stroke-width="1.7" stroke-opacity="0.75"/>
<path d="M838.8,272.4 L841.0,266.1 L838.8,259.8" stroke="#e8333a" stroke-width="4.4"/>
<path d="M838.8,272.4 L841.0,266.1 L838.8,259.8" stroke="#f57070" stroke-width="1.7" stroke-opacity="0.75"/>
</g><g transform="translate(770 330) scale(0.16644)" stroke-linecap="round" stroke-linejoin="round">
<g fill="#d4b2e6" stroke="#b987d4" stroke-width="32" opacity="0.92">
<polygon points="380,200 470,150 560,230 560,330 470,370 380,320"/>
<polygon points="290,360 370,320 460,360 460,460 380,500 290,460"/>
<polygon points="130,330 200,300 280,330 280,420 200,460 130,420"/>
</g>
<g fill="none" stroke="#b987d4" stroke-width="32">
<path d="M470,150 L470,100 M200,460 L180,530 L110,540 M180,530 L240,590 M560,330 L600,370"/>
</g>
<g fill="none" stroke="#e8474c" stroke-width="34"><path d="M150,537 L100,540 M215,565 L245,595"/></g>
<g fill="#e0e0fa" stroke="#c4c4ee" stroke-width="4">
<ellipse cx="345" cy="210" rx="30" ry="24"/><ellipse cx="230" cy="262" rx="28" ry="24"/><ellipse cx="255" cy="300" rx="24" ry="20"/>
<ellipse cx="115" cy="430" rx="28" ry="24"/><ellipse cx="220" cy="440" rx="26" ry="22"/><ellipse cx="335" cy="430" rx="30" ry="24"/>
<ellipse cx="500" cy="490" rx="30" ry="25"/><ellipse cx="595" cy="365" rx="28" ry="24"/><ellipse cx="600" cy="220" rx="26" ry="22"/>
<ellipse cx="270" cy="572" rx="26" ry="22"/><ellipse cx="365" cy="545" rx="24" ry="20"/>
</g>
</g><use href="#c2r" transform="matrix(1.05664,0.00876,0.05305,0.98790,608.37,163.62)"/><use href="#cageB" transform="matrix(1.05664,0.00876,0.05305,0.98790,608.37,163.62)"/></g>
<circle cx="784.1" cy="411.1" r="5.6" fill="#fff" stroke="#000" stroke-width="1.2"/><path d="M780.8,411.1 H787.4" stroke="#000" stroke-width="1.2"/>
<g style="--zng:url(#zn2);--edge:#f6b9b4;--cen:#f9dcd8"><use href="#cageA" transform="matrix(-1.00478,0.00343,-0.00596,1.00595,405.04,353.43)"/><use href="#cageTop" transform="matrix(-1.00478,0.00343,-0.00596,1.00595,405.04,353.43)"/><use href="#cageRF" transform="matrix(-1.00478,0.00343,-0.00596,1.00595,405.04,353.43)"/><use href="#cageLD" transform="matrix(-1.00478,0.00343,-0.00596,1.00595,405.04,353.43)"/><use href="#cageIJ" transform="matrix(-1.00478,0.00343,-0.00596,1.00595,405.04,353.43)"/><use href="#cageB" transform="matrix(-1.00478,0.00343,-0.00596,1.00595,405.04,353.43)"/></g>

<defs><filter id="rough" x="-10%" y="-10%" width="120%" height="120%"><feTurbulence type="fractalNoise" baseFrequency="0.35" numOctaves="2" seed="4" result="n"/><feDisplacementMap in="SourceGraphic" in2="n" scale="7" xChannelSelector="R" yChannelSelector="G"/></filter>
<linearGradient id="lg" x1="0" y1="0" x2="0" y2="1"><stop offset="0" stop-color="#456640"/><stop offset="0.6" stop-color="#2e482a"/><stop offset="1" stop-color="#1d2c1b"/></linearGradient>
<filter id="speck" x="0" y="0" width="100%" height="100%" color-interpolation-filters="sRGB"><feTurbulence type="fractalNoise" baseFrequency="0.6" numOctaves="1" seed="9" result="n"/><feColorMatrix in="n" type="matrix" values="0 0 0 0 0.47  0 0 0 0 0.60  0 0 0 0 0.33  0 0 0 9 -5.1" result="s"/><feComposite in="s" in2="SourceGraphic" operator="in" result="s2"/><feMerge><feMergeNode in="SourceGraphic"/><feMergeNode in="s2"/></feMerge></filter></defs>
<g>
<polygon points="610.6,227.6 617.7,223.9 627.0,226.1 629.2,239.8 628.3,253.2 627.9,265.8 610.6,265.8 612.8,253.2 614.6,239.8" fill="#868069" filter="url(#rough)"/>
<path d="M616.6,231.0 L618.1,244.3 L617.2,262.0" stroke="#5e5a4a" stroke-width="1.5" fill="none" opacity="0.8"/>
<path d="M623.2,233.2 L622.1,248.7 L624.3,264.3" stroke="#5e5a4a" stroke-width="1.5" fill="none" opacity="0.8"/>
<path d="M613.2,244.3 L615.0,257.6" stroke="#5e5a4a" stroke-width="1.5" fill="none" opacity="0.8"/>
<g filter="url(#speck)"><g filter="url(#rough)">
<polygon points="573.3,142.2 579.9,137.8 591.0,134.4 602.1,133.3 615.5,130.0 624.3,131.1 628.8,140.0 632.1,148.9 629.9,157.7 624.3,164.4 606.6,166.6 584.4,162.2 575.5,151.1" fill="url(#lg)"/>
<polygon points="552.2,178.8 560.0,173.3 566.6,158.8 575.5,156.6 586.6,159.9 606.6,165.5 628.8,161.1 644.3,162.2 658.7,166.6 656.5,173.3 639.9,179.9 624.3,184.4 611.0,192.1 597.7,192.1 584.4,187.7 566.6,183.2" fill="url(#lg)"/>
<polygon points="577.7,195.5 591.0,191.0 613.2,188.8 633.2,186.6 646.5,183.2 664.3,187.7 674.3,193.2 665.4,202.1 648.7,206.6 633.2,213.2 622.1,215.9 604.4,207.7 588.8,201.0" fill="url(#lg)"/>
<polygon points="546.7,217.6 555.5,208.8 568.9,202.6 584.4,200.3 602.1,203.9 613.2,208.8 621.0,215.4 617.7,224.3 606.6,227.0 588.8,222.5 571.1,220.3 553.3,221.0" fill="url(#lg)"/>
<polygon points="625.4,215.4 639.9,210.5 657.6,208.3 677.6,206.1 686.5,212.1 693.6,220.3 682.0,222.5 668.7,226.5 651.0,231.4 639.9,238.1 631.0,235.8 623.9,227.0" fill="url(#lg)"/>
</g></g>
<path d="M584.4,186.6 L606.6,193.2 L615.5,213.2 L617.7,224.3" stroke="#6e6a58" stroke-width="1.6" fill="none"/>
<path d="M624.3,184.4 L615.5,191.0" stroke="#6e6a58" stroke-width="1.6" fill="none"/>
<path d="M633.2,213.2 L622.1,219.9" stroke="#6e6a58" stroke-width="1.6" fill="none"/>
<path d="M639.9,235.4 L627.7,235.4" stroke="#6e6a58" stroke-width="1.6" fill="none"/>
<path d="M568.9,179.9 L588.8,187.7" stroke="#6e6a58" stroke-width="1.6" fill="none"/>
<path d="M568.9,219.9 L595.5,224.3 L615.5,226.5" stroke="#6e6a58" stroke-width="1.6" fill="none"/>
</g>
<g id="mol">
<path d="M520.9,204.6L536.0,213.3M536.0,213.3L536.0,230.8M536.0,230.8L520.9,239.6M520.9,239.6L505.7,230.8M505.7,230.8L505.7,213.3M505.7,213.3L520.9,204.6M520.9,239.6L520.9,257.1M520.9,257.1L505.7,265.8M505.7,265.8L490.6,257.1M490.6,257.1L490.6,239.6M490.6,239.6L505.7,230.8M490.6,257.1L475.4,265.8M475.4,265.8L460.2,257.1M460.2,257.1L460.2,239.6M460.2,239.6L475.4,230.8M475.4,230.8L490.6,239.6M508.9,215.9L508.9,228.2M521.5,208.6L532.1,214.8M532.1,229.3L521.5,235.5M520.9,204.6L520.9,194.1M474.6,285.0L467.0,289.0M475.5,283.2L485,287.8M476.2,286.2L484,290.7" stroke="#7a00ff" stroke-width="1.15" fill="none" stroke-linecap="round"/>
<path d="M490.1,239.6L489.0,222.6L492.2,222.6Z" fill="#7a00ff"/>
<path d="M474.8,265.8L476.0,265.8L476.8,274.0L476.8,284.0L474.0,284.0L474.0,274.0Z" fill="#7a00ff"/>
<path d="M489.8,259.1L491.4,259.1M489.1,261.7L492.1,261.7M488.4,264.2L492.8,264.2M487.7,266.9L493.5,266.9M473.5,268.8L472.9,267.6M470.2,270.7L469.4,268.7M467.0,272.6L465.8,269.8M463.8,274.4L462.2,271.0M460.5,276.3L458.7,272.1" stroke="#7a00ff" stroke-width="1.1" fill="none"/>
<text class="pu" x="516" y="192.7" font-size="16.5" textLength="22" lengthAdjust="spacingAndGlyphs">OH</text>
<text class="pu" x="444.2" y="298.7" font-size="16" textLength="21.5" lengthAdjust="spacingAndGlyphs">HO</text>
<text class="pu" x="485.3" y="298.7" font-size="16" textLength="10.8" lengthAdjust="spacingAndGlyphs">O</text>
<text class="pu" x="486" y="280.7" font-size="15.5" textLength="9.2" lengthAdjust="spacingAndGlyphs">H</text>
</g>
<use href="#mol" transform="translate(0,259)"/>
<!-- headings -->
<text class="hb" x="118" y="50" textLength="165" lengthAdjust="spacingAndGlyphs">Racemic Cage</text>
<text class="hb" x="470" y="108.4" textLength="182" lengthAdjust="spacingAndGlyphs">Natural Product</text>
<text class="hb" x="710" y="189" textLength="279" lengthAdjust="spacingAndGlyphs">Enantiopure Host-Guest</text>
<text class="hb" x="799" y="217.5" textLength="102" lengthAdjust="spacingAndGlyphs">Complex</text>
<!-- bullets -->
<circle cx="437.5" cy="614.7" r="7.3" fill="#000"/>
<circle cx="437.5" cy="674" r="7.3" fill="#000"/>
<text class="hb" style="font-size:24.5px" x="464" y="623.8" textLength="508" lengthAdjust="spacingAndGlyphs">Optically Chiral Signal-Responsive Process</text>
<text class="hb" style="font-size:24.5px" x="464" y="682.7" textLength="564" lengthAdjust="spacingAndGlyphs">Acid/Base-Controlled Guest Uptake and Release</text>
<!-- arrows -->
<g stroke="#000" fill="none" stroke-width="2.9">
<line x1="456" y1="360.2" x2="620" y2="360.2"/>
<line x1="460" y1="386" x2="623" y2="386"/>
<path d="M499.5,306 C495,338 512,358 552,360.2" stroke-width="2.7"/>
<path d="M550,386 C520,388 503,405 503,430" stroke-width="2.7"/>
</g>
<path d="M628,360.2 L617.5,352.8 L617.5,367.6 Z" fill="#000"/>
<path d="M453,386 L462,378.8 L462,393.4 Z" fill="#000"/>
<path d="M503,438.5 L496,428.5 L510.5,428.5 Z" fill="#000"/>
<text class="rg" x="533.8" y="351" textLength="54" lengthAdjust="spacingAndGlyphs">Base</text>
<text class="rg" x="536.5" y="417.5" textLength="47" lengthAdjust="spacingAndGlyphs">Acid</text>
<!-- equilibrium harpoons -->
<path d="M196,415.5 L196,376 L190,377.5 L199,350 L199,415.5 Z" fill="#000"/>
<path d="M204,354 L207,354 L207,395 L213,391.8 L204.3,420 Z" fill="#000"/>
<!-- labels -->
<text class="rg" x="154.3" y="335.6" textLength="93" lengthAdjust="spacing"><tspan font-style="italic">Δ</tspan><tspan font-size="15" dy="6">4</tspan><tspan dy="-6">-Zn</tspan><tspan font-size="15" dy="6">4</tspan><tspan dy="-6">L</tspan><tspan font-size="15" dy="6">4</tspan></text>
<text class="rg" x="160.2" y="684.7" textLength="93.5" lengthAdjust="spacing"><tspan font-style="italic">Λ</tspan><tspan font-size="15" dy="6">4</tspan><tspan dy="-6">-Zn</tspan><tspan font-size="15" dy="6">4</tspan><tspan dy="-6">L</tspan><tspan font-size="15" dy="6">4</tspan></text>
<text class="rg" x="753.8" y="520.7" textLength="64" lengthAdjust="spacingAndGlyphs">Guest</text>
<path d="M836,509.8 H826.2 A5.45,5.45 0 0 0 826.2,520.7 H836" fill="none" stroke="#000" stroke-width="1.7"/>
<text class="rg" x="837" y="520.7" textLength="92" lengthAdjust="spacing"><tspan font-style="italic">Δ</tspan><tspan font-size="15" dy="6">4</tspan><tspan dy="-6">-Zn</tspan><tspan font-size="15" dy="6">4</tspan><tspan dy="-6">L</tspan><tspan font-size="15" dy="6">4</tspan></text>

</svg>
</body></html>
